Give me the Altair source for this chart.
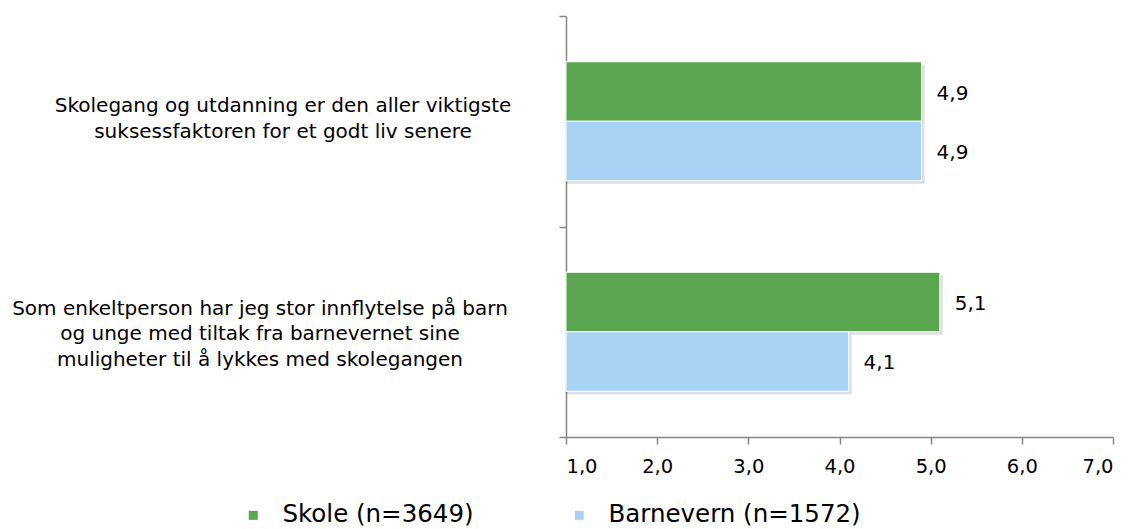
import altair as alt
import pandas as pd

categories = [
    "Skolegang og utdanning er den aller viktigste|suksessfaktoren for et godt liv senere",
    "Som enkeltperson har jeg stor innflytelse på barn|og unge med tiltak fra barnevernet sine|muligheter til å lykkes med skolegangen",
]
series = ["Skole (n=3649)", "Barnevern (n=1572)"]
skole = [4.9, 5.1]
barnevern = [4.9, 4.1]
colors = ["#5BA551", "#A8D3F4"]
x_ticks = [1, 2, 3, 4, 5, 6, 7]

rows = []
for i, c in enumerate(categories):
    rows.append({"cat": c, "serie": series[0], "value": skole[i]})
    rows.append({"cat": c, "serie": series[1], "value": barnevern[i]})
df = pd.DataFrame(rows)
cat_df = pd.DataFrame({"cat": categories, "idx": [0, 1]})

FONT = "DejaVu Sans"
W, H = 547, 421


def y_encoding(shift=0, with_axis=False):
    if with_axis:
        ax = alt.Axis(
            orient="left",
            labels=False,
            tickBand="extent",
            tickSize=7,
            tickColor="#868686",
            tickWidth=1.5,
            domainColor="#868686",
            domainWidth=1.5,
            minExtent=558,
            maxExtent=558,
            grid=False,
        )
    else:
        ax = None
    sc = alt.Scale(domain=categories, paddingInner=0, paddingOuter=0, range=[shift, H + shift])
    return alt.Y("cat:N", sort=categories, title=None, scale=sc, axis=ax)


yoff = alt.YOffset("serie:N", sort=series, scale=alt.Scale(domain=series, paddingInner=0, paddingOuter=0.769))
x_enc = alt.X(
    "value:Q",
    title=None,
    scale=alt.Scale(domain=[1, 7], nice=False, zero=False),
    axis=alt.Axis(
        values=x_ticks,
        labelExpr="replace(format(datum.value, '.1f'), '.', ',')",
        labelFont=FONT,
        labelFontSize=19.5,
        labelColor="#000000",
        labelPadding=13,
        tickSize=7,
        tickColor="#868686",
        tickWidth=1.5,
        domainColor="#868686",
        domainWidth=1.5,
        grid=False,
    ),
)

base = alt.Chart(df)

shadow = base.mark_bar(color="#000000", opacity=0.13, xOffset=3).encode(
    y=y_encoding(shift=3), yOffset=yoff, x=x_enc, x2=alt.datum(1)
)

bars = base.mark_bar(stroke="#FFFFFF", strokeWidth=1).encode(
    y=y_encoding(with_axis=True),
    yOffset=yoff,
    x=x_enc,
    x2=alt.datum(1),
    color=alt.Color(
        "serie:N",
        sort=series,
        scale=alt.Scale(domain=series, range=colors),
        legend=alt.Legend(
            title=None,
            orient="none",
            direction="horizontal",
            legendX=-325,
            legendY=487,
            symbolType="square",
            symbolSize=81,
            symbolStrokeWidth=0,
            labelFont=FONT,
            labelFontSize=24.5,
            labelColor="#000000",
            labelOffset=17,
            columnPadding=93,
            labelLimit=1000,
        ),
    ),
)

labels = base.mark_text(align="left", baseline="middle", dx=15, dy=2, font=FONT, fontSize=20, color="#000000").encode(
    y=y_encoding(),
    yOffset=yoff,
    x=x_enc,
    text=alt.Text("lbl:N"),
).transform_calculate(lbl="replace(format(datum.value, '.1f'), '.', ',')")

label_x = [-283, -306]
label_dy = [-15, -23]
cat_layers = []
for i in range(len(categories)):
    cat_layers.append(
        alt.Chart(cat_df).mark_text(
            align="center", baseline="middle", lineBreak="|", lineHeight=25.5,
            font=FONT, fontSize=20, color="#000000", dy=label_dy[i],
        ).encode(
            y=y_encoding(),
            x=alt.value(label_x[i]),
            text="cat:N",
        ).transform_filter(alt.datum.idx == i)
    )

chart = (
    alt.layer(shadow, bars, labels, *cat_layers)
    .resolve_scale(y="independent")
    .properties(width=W, height=H, background="#FFFFFF",
                padding={"left": 0, "top": 7, "right": 5, "bottom": 0})
    .configure_view(strokeWidth=0)
)

chart.save("out.html", embed_options={"renderer": "svg", "actions": False})
